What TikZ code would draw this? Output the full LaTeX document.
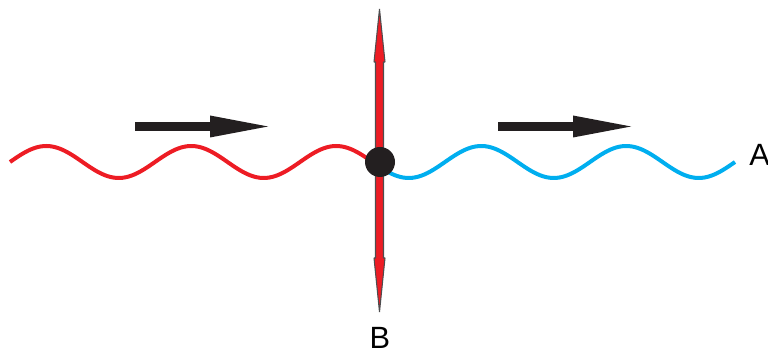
\documentclass[tikz,border=0pt]{standalone}
\usepackage{fontspec}
\setmainfont{Liberation Sans}
\usetikzlibrary{arrows.meta, positioning, calc}
\definecolor{wavered}{HTML}{ED1C24}
\definecolor{waveblue}{HTML}{00AEEF}
\definecolor{inkblack}{HTML}{231F20}
\definecolor{rimgray}{HTML}{4D4D4F}

\begin{document}
\begin{tikzpicture}[
    wave/.style={line width=0.08cm, #1},
    bigarrow/.style={line width=0.18cm, inkblack,
                     -{Triangle[length=1.3cm, width=0.38cm]}},
    vibe/.style={fill=wavered, draw=rimgray, line width=0.6pt, line join=bevel},
    particle/.style={circle, fill=inkblack, minimum size=0.6cm, inner sep=0pt},
    lbl/.style={font=\fontsize{17.5}{20}\selectfont, inner sep=0pt}
]
\useasboundingbox (0,0) rectangle (15.36,7.02);

% Waves (red = incoming, blue = outgoing)
\draw[wave=wavered] plot[domain=0:900, samples=120, smooth]
    ({0.2+2.9*\x/360}, {3.78+0.32*sin(\x)});
\draw[wave=waveblue] plot[domain=900:1800, samples=120, smooth]
    ({0.2+2.9*\x/360}, {3.78+0.32*sin(\x)});

% Direction of travel
\coordinate (l1) at (2.7,4.49);
\coordinate (l2) at (5.5,4.49);
\coordinate (r1) at (9.96,4.49);
\coordinate (r2) at (12.76,4.49);
\draw[bigarrow] (l1) -- (l2);
\draw[bigarrow] (r1) -- (r2);

% Vibration of the point
\coordinate (tiptop) at (7.59,6.84);
\coordinate (tipbot) at (7.59,0.78);
\draw[vibe] (tiptop) -- ++(0.11,-1.06) -- ++(-0.03,0) -- (7.67,1.86)
    -- ++(0.03,0) -- (tipbot) -- ++(-0.11,1.08) -- ++(0.03,0)
    -- (7.51,5.78) -- ++(-0.03,0) -- cycle;

% Point on the string
\node[particle] (pt) at (7.6,3.78) {};

% Labels
\node[lbl] (labA) at (15.19,3.92) {A};
\node[lbl] (labB) at (7.6,0.27) {B};

\end{tikzpicture}
\end{document}
